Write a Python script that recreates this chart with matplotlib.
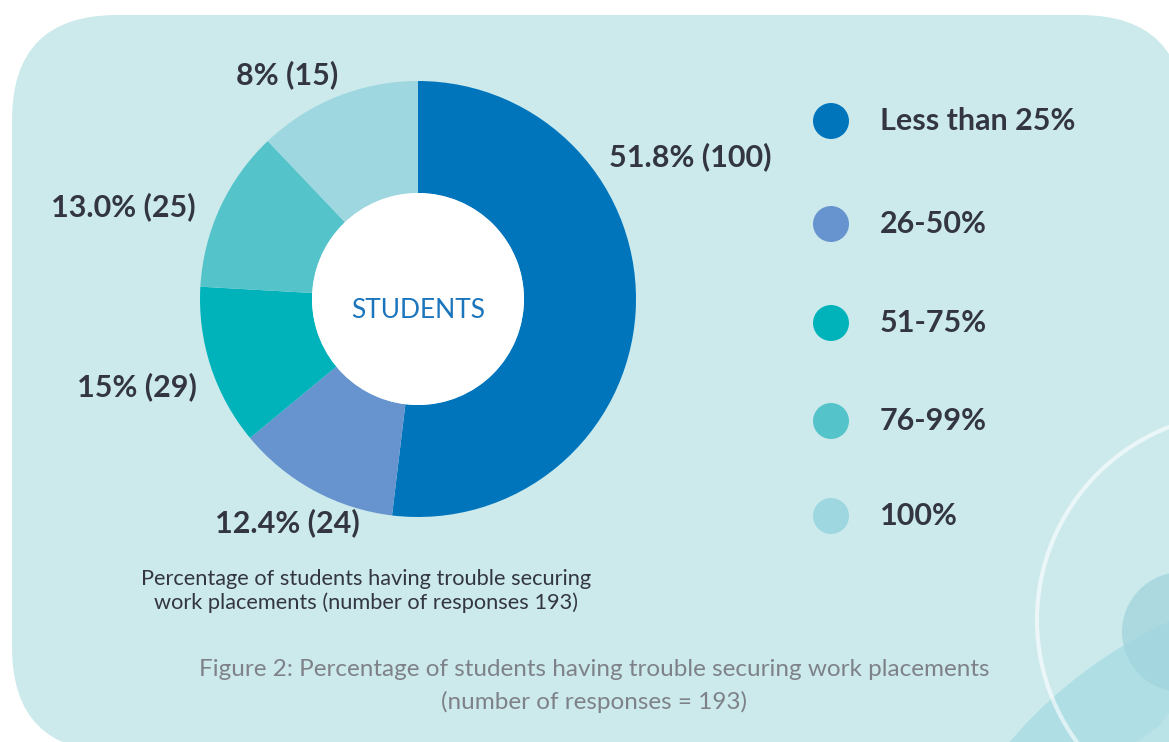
import matplotlib.pyplot as plt
from matplotlib.patches import FancyBboxPatch, Circle

W, H = 1169, 742

# data
categories = ['Less than 25%', '26-50%', '51-75%', '76-99%', '100%']
counts = [100, 24, 29, 25, 15]
labels = ['51.8% (100)', '12.4% (24)', '15% (29)', '13.0% (25)', '8% (15)']
# slice sizes as they are actually drawn in the source graphic (percent of circle)
drawn_share = [51.9, 12.1, 11.9, 12.0, 12.1]
colors = ['#0075BC', '#6794CE', '#00B3BB', '#55C4CA', '#9ED7DF']

# label positions in pixels (x, y from top)
label_pos = [(690, 157), (287, 523), (137, 387), (123, 207), (287, 75)]

dark = '#333642'
bg = '#CCEAEC'

fig = plt.figure(figsize=(W / 100, H / 100), dpi=100)
ax = fig.add_axes([0, 0, 1, 1])

def Y(py):
    return H - py

# panel
ax.add_patch(FancyBboxPatch((12, Y(752)), 1185 - 12, 752 - 15,
                            boxstyle='round,pad=0,rounding_size=105',
                            fc=bg, ec='none', zorder=0))

# decorative circles bottom right
ax.add_patch(Circle((1360, Y(1040)), 460, fc='#A8DCE2', ec='none', alpha=0.8, zorder=1))
ax.add_patch(Circle((1182, Y(632)), 60, fc='#9FD3DC', ec='none', alpha=0.7, zorder=1))
ax.add_patch(Circle((1244, Y(620)), 207, fc='none', ec='white', lw=3, alpha=0.6, zorder=1))

# donut
cx, cy, R, r = 418, 299, 218, 106
ax.pie(drawn_share, colors=colors, startangle=90, counterclock=False,
       center=(cx, Y(cy)), radius=R,
       wedgeprops=dict(width=R - r, edgecolor='none'))
ax.add_patch(Circle((cx, Y(cy)), r, fc='white', ec='none', zorder=3))
ax.text(cx, Y(310), 'STUDENTS', color='#1A75BC', fontsize=19,
        family='Lato', ha='center', va='center', zorder=4)

for lab, (lx, ly) in zip(labels, label_pos):
    ax.text(lx, Y(ly), lab, color=dark, fontsize=22, fontweight='bold',
            family='Lato', ha='center', va='center', zorder=4)

# legend
leg_y = [121, 224, 323, 421, 516]
for cat, col, ly in zip(categories, colors, leg_y):
    ax.add_patch(Circle((831, Y(ly)), 18, fc=col, ec='none', zorder=4))
    ax.text(880, Y(ly), cat, color=dark, fontsize=22, fontweight='bold',
            family='Lato', ha='left', va='center', zorder=4)

# captions
ax.text(366, Y(591), 'Percentage of students having trouble securing\nwork placements (number of responses 193)',
        color=dark, fontsize=15.7, family='Lato', ha='center', va='center',
        linespacing=1.2, zorder=4)
ax.text(594, Y(686), 'Figure 2: Percentage of students having trouble securing work placements\n(number of responses = 193)',
        color='#7E8288', fontsize=17.5, family='Lato',
        ha='center', va='center', linespacing=1.55, zorder=4)

ax.set_xlim(0, W)
ax.set_ylim(0, H)
ax.set_aspect('equal')
ax.axis('off')

plt.savefig('out.png', dpi=100, facecolor='white')
